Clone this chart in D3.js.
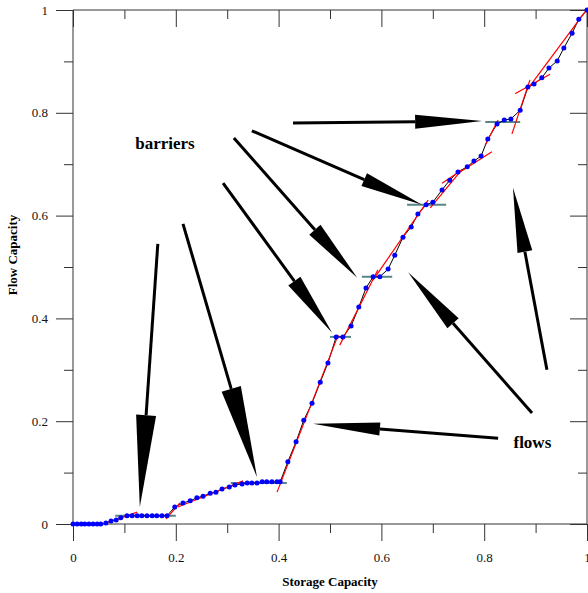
<!DOCTYPE html>
<html>
<head>
<meta charset="utf-8">
<script src="https://cdn.jsdelivr.net/npm/d3@7"></script>
<style>
  body { margin: 0; background: #fff; }
  text { font-family: "Liberation Serif", "Times New Roman", serif; }
</style>
</head>
<body>
<div id="chart"></div>
<script>
// measured points (storage capacity, flow capacity)
var storage = [0, 0.008, 0.016, 0.023, 0.031, 0.039, 0.047, 0.054,
  0.064, 0.074, 0.084, 0.093,
  0.105, 0.115, 0.125, 0.134, 0.144, 0.154, 0.163, 0.173, 0.183,
  0.198, 0.214, 0.228, 0.241, 0.253, 0.267, 0.278, 0.290, 0.304, 0.315, 0.329,
  0.339, 0.348, 0.358, 0.368, 0.377, 0.387, 0.397, 0.403,
  0.418, 0.434, 0.449, 0.465, 0.481, 0.496, 0.512, 0.525,
  0.541, 0.556, 0.570, 0.584, 0.597,
  0.613, 0.626, 0.642, 0.658, 0.671, 0.687, 0.700,
  0.718, 0.733, 0.749, 0.767, 0.780, 0.794, 0.807, 0.825, 0.839, 0.852,
  0.870, 0.885, 0.897, 0.912, 0.926, 0.942, 0.955, 0.971, 0.984, 1.000];
var flow = [0, 0, 0, 0, 0, 0, 0, 0,
  0.002, 0.006, 0.008, 0.012,
  0.016, 0.016, 0.016, 0.016, 0.016, 0.016, 0.016, 0.016, 0.016,
  0.033, 0.041, 0.045, 0.051, 0.054, 0.060, 0.062, 0.068, 0.072, 0.076, 0.078,
  0.080, 0.080, 0.080, 0.082, 0.082, 0.082, 0.082, 0.082,
  0.121, 0.160, 0.202, 0.235, 0.276, 0.313, 0.364, 0.364,
  0.385, 0.422, 0.459, 0.481, 0.481,
  0.496, 0.523, 0.558, 0.578, 0.603, 0.621, 0.626,
  0.650, 0.669, 0.685, 0.695, 0.706, 0.716, 0.749, 0.778, 0.786, 0.788,
  0.805, 0.850, 0.856, 0.868, 0.887, 0.901, 0.926, 0.955, 0.982, 1.000];

// linear fits [x1, y1, x2, y2]
var fits = [
  [0.058, 0.000, 0.125, 0.023],
  [0.181, 0.010, 0.208, 0.041],
  [0.204, 0.033, 0.331, 0.084],
  [0.397, 0.062, 0.516, 0.368],
  [0.519, 0.348, 0.593, 0.494],
  [0.584, 0.475, 0.691, 0.630],
  [0.695, 0.615, 0.753, 0.685],
  [0.718, 0.663, 0.757, 0.689],
  [0.753, 0.685, 0.815, 0.724],
  [0.802, 0.737, 0.827, 0.786],
  [0.854, 0.759, 0.889, 0.864],
  [0.860, 0.837, 0.928, 0.875],
  [0.883, 0.844, 1.002, 1.004]
];

// barriers [x1, x2, y]
var barriers = [
  [0.082, 0.200, 0.016],
  [0.307, 0.416, 0.080],
  [0.500, 0.541, 0.364],
  [0.562, 0.621, 0.481],
  [0.650, 0.726, 0.621],
  [0.802, 0.870, 0.782]
];

// annotation arrows [tailX, tailY, tipX, tipY]
var arrows = [
  [0.428, 0.780, 0.796, 0.784],
  [0.348, 0.765, 0.679, 0.621],
  [0.313, 0.751, 0.553, 0.479],
  [0.292, 0.663, 0.504, 0.372],
  [0.214, 0.584, 0.358, 0.091],
  [0.165, 0.545, 0.130, 0.033],
  [0.893, 0.216, 0.652, 0.490],
  [0.827, 0.167, 0.467, 0.195],
  [0.922, 0.300, 0.856, 0.654]
];
var headLen = [67, 63, 64, 64, 92, 92, 68, 67, 65];
var headWid = [14, 14, 15, 15, 20, 20, 15, 13, 15];

var labels = [["barriers", 0.121, 0.730], ["flows", 0.857, 0.147]];

var w = 588, h = 593;
var x = d3.scaleLinear().domain([0, 1]).range([73, 587]);
var y = d3.scaleLinear().domain([0, 1]).range([524, 10]);

var svg = d3.select("#chart").append("svg")
  .attr("width", w).attr("height", h);

var major = d3.range(0, 1.01, 0.2);
var minor = d3.range(0.1, 1, 0.2);
var fmt = function(d) { return d3.format("~g")(+d.toFixed(2)); };

function axis(gen, scale, size, labelled, transform) {
  var g = svg.append("g").attr("transform", transform)
    .call(gen(scale).tickValues(major).tickSize(size).tickPadding(labelled ? 12 : 0)
      .tickFormat(labelled ? fmt : ""));
  svg.append("g").attr("transform", transform)
    .call(gen(scale).tickValues(minor).tickSize(size > 0 ? 9 : -9).tickFormat(""));
  return g;
}

var gb = axis(d3.axisBottom, x, 17, true, "translate(0,524)");
var gl = axis(d3.axisLeft, y, 17, true, "translate(73,0)");
axis(d3.axisTop, x, -17, false, "translate(0,10)");
axis(d3.axisRight, y, -17, false, "translate(587,0)");

svg.selectAll(".domain").remove();
svg.selectAll(".tick line").attr("stroke", "#333");
svg.selectAll(".tick text")
  .style("font-family", "Liberation Serif")
  .style("font-size", "13px")
  .attr("fill", "#111");
gl.selectAll(".tick text").attr("x", -25);

// frame
var frame = [[0, 0, 1, 0], [0, 1, 1, 1], [0, 0, 0, 1], [1, 0, 1, 1]];
svg.selectAll("line.frame").data(frame).enter().append("line")
  .attr("class", "frame")
  .attr("x1", function(d) { return x(d[0]); })
  .attr("y1", function(d) { return y(d[1]); })
  .attr("x2", function(d) { return x(d[2]); })
  .attr("y2", function(d) { return y(d[3]); })
  .attr("stroke", "#333").attr("stroke-width", 1);

// axis titles
svg.append("text")
  .attr("x", 330).attr("y", 586)
  .attr("text-anchor", "middle")
  .style("font-size", "13px").style("font-weight", "bold")
  .text("Storage Capacity");
svg.append("text")
  .attr("transform", "translate(17,255) rotate(-90)")
  .attr("text-anchor", "middle")
  .style("font-size", "13px").style("font-weight", "bold")
  .text("Flow Capacity");

// barriers
svg.selectAll("line.barrier").data(barriers).enter().append("line")
  .attr("class", "barrier")
  .attr("x1", function(d) { return x(d[0]); })
  .attr("x2", function(d) { return x(d[1]); })
  .attr("y1", function(d) { return y(d[2]); })
  .attr("y2", function(d) { return y(d[2]); })
  .attr("stroke", "#5a8585").attr("stroke-width", 2);

// data line
var pts = storage.map(function(s, i) { return [s, flow[i]]; });
svg.append("path")
  .datum(pts)
  .attr("fill", "none").attr("stroke", "#000").attr("stroke-width", 1)
  .attr("d", d3.line().x(function(d) { return x(d[0]); }).y(function(d) { return y(d[1]); }));

// fits
svg.selectAll("line.fit").data(fits).enter().append("line")
  .attr("class", "fit")
  .attr("x1", function(d) { return x(d[0]); })
  .attr("y1", function(d) { return y(d[1]); })
  .attr("x2", function(d) { return x(d[2]); })
  .attr("y2", function(d) { return y(d[3]); })
  .attr("stroke", "#ff0000").attr("stroke-width", 1.2);

// points
svg.selectAll("circle").data(pts).enter().append("circle")
  .attr("cx", function(d) { return x(d[0]); })
  .attr("cy", function(d) { return y(d[1]); })
  .attr("r", 2.5)
  .attr("fill", "#0000ff");

// arrows
arrows.forEach(function(a, i) {
  var x0 = x(a[0]), y0 = y(a[1]), x1 = x(a[2]), y1 = y(a[3]);
  var dx = x1 - x0, dy = y1 - y0, len = Math.sqrt(dx * dx + dy * dy);
  var ux = dx / len, uy = dy / len;
  var bx = x1 - ux * headLen[i], by = y1 - uy * headLen[i];
  var hw = headWid[i] / 2;
  svg.append("line")
    .attr("x1", x0).attr("y1", y0).attr("x2", bx).attr("y2", by)
    .attr("stroke", "#000").attr("stroke-width", 3);
  svg.append("polygon")
    .attr("points", [[x1, y1], [bx - uy * hw, by + ux * hw], [bx + uy * hw, by - ux * hw]]
      .map(function(p) { return p.join(","); }).join(" "))
    .attr("fill", "#000");
});

svg.selectAll("text.note").data(labels).enter().append("text")
  .attr("class", "note")
  .attr("x", function(d) { return x(d[1]); })
  .attr("y", function(d) { return y(d[2]); })
  .style("font-size", "17px").style("font-weight", "bold")
  .text(function(d) { return d[0]; });
</script>
</body>
</html>
